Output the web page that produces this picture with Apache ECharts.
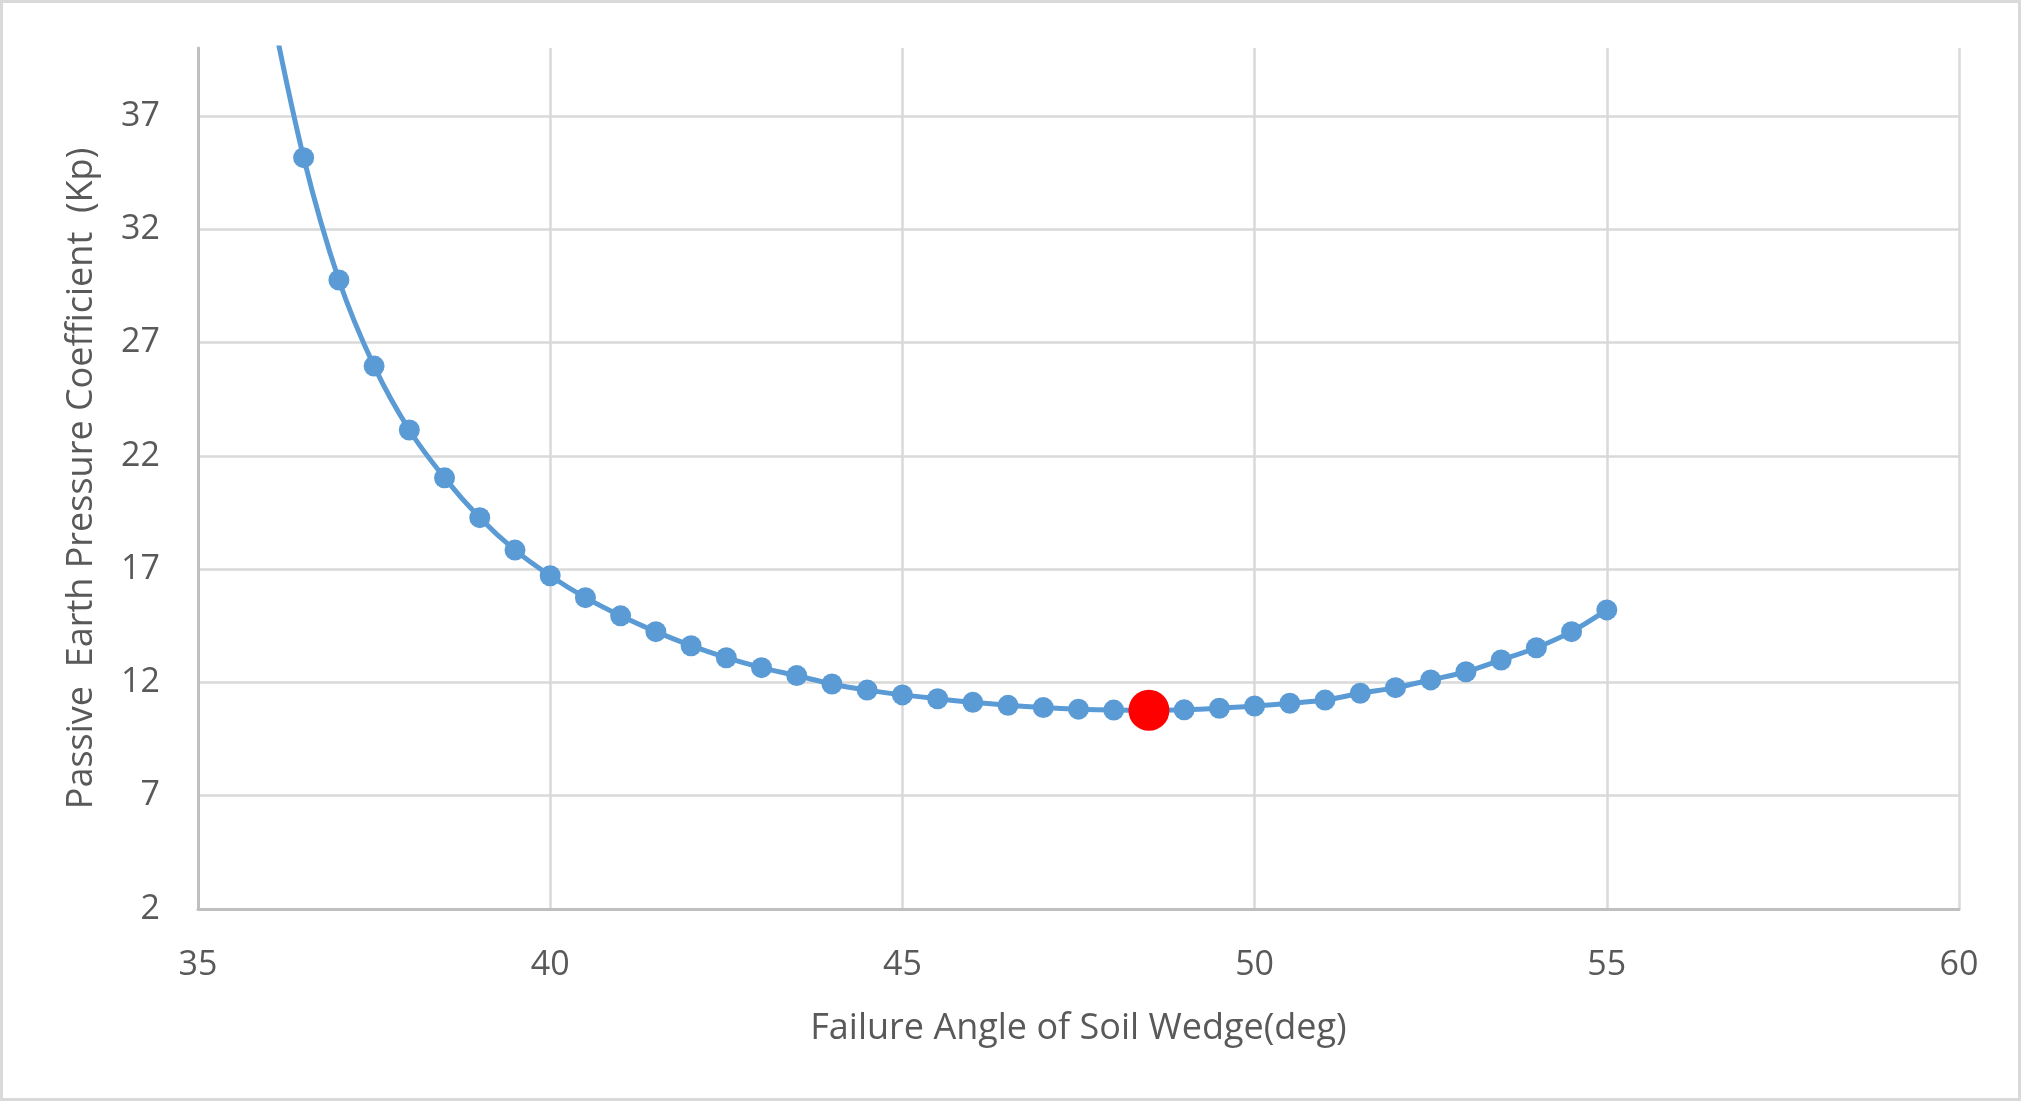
<!DOCTYPE html>
<html>
<head>
<meta charset="utf-8">
<title>Passive Earth Pressure Coefficient</title>
<script src="https://cdn.jsdelivr.net/npm/echarts@6/dist/echarts.min.js"></script>
<style>
  html, body { margin: 0; padding: 0; background: #fff; }
  #chart { width: 2028px; height: 1104px; }
</style>
</head>
<body>
<div id="chart"></div>
<script>
  // failure angle of the soil wedge (deg)
  var angles = [36, 36.5, 37, 37.5, 38, 38.5, 39, 39.5, 40, 40.5, 41, 41.5, 42, 42.5, 43, 43.5,
    44, 44.5, 45, 45.5, 46, 46.5, 47, 47.5, 48, 48.5, 49, 49.5, 50, 50.5, 51, 51.5, 52, 52.5,
    53, 53.5, 54, 54.5, 55]
  // Kp
  var kpValues = [42.4, 35.16, 29.76, 25.96, 23.14, 21.03, 19.27, 17.84, 16.71, 15.74, 14.94, 14.24,
    13.62, 13.09, 12.65, 12.30, 11.93, 11.66, 11.45, 11.28, 11.12, 10.99, 10.89, 10.82, 10.78,
    10.77, 10.79, 10.86, 10.96, 11.08, 11.22, 11.52, 11.77, 12.11, 12.47, 12.99, 13.53, 14.24, 15.20]
  // minimum (critical) wedge
  var minPoint = [48.5, 10.77]

  var textColor = '#595959'
  var font = 'Open Sans'

  var dom = echarts.init(document.getElementById('chart'))
  var option = {
    backgroundColor: '#fff',
    animation: false,
    graphic: [{
      type: 'rect',
      shape: { x: 1.5, y: 1.5, width: 2018, height: 1098 },
      style: { fill: 'none', stroke: '#d9d9d9', lineWidth: 3 },
      silent: true
    }],
    grid: {
      left: 198,
      right: 69,
      top: 48,
      bottom: 195
    },
    xAxis: {
      type: 'value',
      min: 35,
      max: 60,
      interval: 5,
      name: 'Failure Angle of Soil Wedge(deg)',
      nameLocation: 'middle',
      nameGap: 102,
      nameTextStyle: { color: textColor, fontSize: 36, fontFamily: font },
      axisLine: { show: true, onZero: false, lineStyle: { color: '#bfbfbf', width: 3 } },
      axisTick: { show: false },
      axisLabel: { color: textColor, fontSize: 34, fontFamily: font, margin: 39 },
      splitLine: { show: true, lineStyle: { color: '#d9d9d9', width: 2.5 } }
    },
    yAxis: {
      type: 'value',
      min: 2,
      max: 40,
      interval: 5,
      name: 'Passive  Earth Pressure Coefficient  (Kp)',
      nameLocation: 'middle',
      nameGap: 98,
      nameTextStyle: { color: textColor, fontSize: 36, fontFamily: font },
      axisLine: { show: true, onZero: false, lineStyle: { color: '#bfbfbf', width: 3 } },
      axisTick: { show: false },
      axisLabel: { color: textColor, fontSize: 34, fontFamily: font, margin: 38, showMaxLabel: false },
      splitLine: { show: true, showMaxLine: false, lineStyle: { color: '#d9d9d9', width: 2.5 } }
    },
    series: [
      {
        name: 'Kp',
        type: 'line',
        smooth: 0.35,
        clip: true,
        data: angles.map(function (a, i) { return [a, kpValues[i]] }),
        symbol: 'circle',
        symbolSize: 21,
        itemStyle: { color: '#5b9bd5' },
        lineStyle: { color: '#5b9bd5', width: 5 },
        z: 2
      },
      {
        name: 'Minimum',
        type: 'scatter',
        data: [minPoint],
        symbol: 'circle',
        symbolSize: 41,
        itemStyle: { color: '#ff0000', opacity: 1 },
        z: 3
      }
    ]
  }
  dom.setOption(option)
  window.addEventListener('resize', function () { dom.resize() })
</script>
</body>
</html>
